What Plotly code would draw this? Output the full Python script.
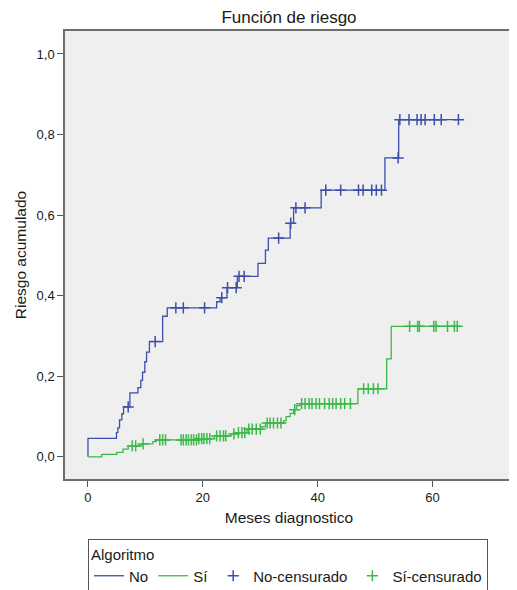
import numpy as np
import plotly.graph_objects as go

# ---- Data ----
# "No" group: cumulative hazard step function (time in months, value)
no_t = [0, 0, 4.96, 5.2, 5.5, 5.9, 6.2, 7.3, 8.7, 9.2, 9.5, 9.9, 10.2, 10.7, 13.0, 13.8,
        22.4, 23.0, 24.2, 26.0, 29.6, 30.9, 31.4, 35.2, 35.8, 40.6, 51.7, 54.1, 64.5]
no_v = [0, 0.046, 0.06, 0.072, 0.092, 0.107, 0.124, 0.159, 0.172, 0.19, 0.21, 0.236, 0.26, 0.286, 0.349, 0.37,
        0.385, 0.395, 0.42, 0.448, 0.48, 0.513, 0.543, 0.58, 0.618, 0.662, 0.742, 0.837, 0.837]
no_cens_t = [7.0, 11.7, 15.3, 16.6, 20.3, 23.3, 24.3, 25.8, 26.3, 27.2, 33.2, 35.3, 36.2, 37.8,
             41.4, 44.0, 47.1, 47.9, 49.4, 50.2, 51.1, 54.0, 54.3, 55.9, 57.3, 58.0, 58.7, 60.3, 61.5, 64.5]

# "Sí" group
si_t = [0, 2.4, 5.0, 6.1, 7.0, 9.3, 11.3, 11.9, 19.0, 22.0, 24.9, 26.0, 27.7, 30.3, 30.9,
        34.1, 34.5, 35.2, 35.8, 36.3, 37.0, 47.0, 52.0, 52.8, 64.4]
si_v = [0, 0.006, 0.011, 0.019, 0.027, 0.032, 0.038, 0.042, 0.045, 0.052, 0.057, 0.06, 0.069, 0.075, 0.084,
        0.09, 0.10, 0.108, 0.117, 0.127, 0.132, 0.169, 0.243, 0.324, 0.324]
si_cens_t = [7.7, 8.3, 9.6, 12.5, 13.0, 13.5, 16.2, 16.6, 17.1, 17.5, 18.0, 18.4, 18.9, 19.3, 19.8,
             20.2, 20.7, 21.2, 22.4, 23.0, 23.6, 24.0, 25.4, 26.2, 26.8, 27.3, 28.0, 28.6, 29.3,
             30.0, 31.2, 31.7, 32.3, 33.0, 33.6, 36.0, 37.2, 37.8, 38.5, 39.0, 39.7, 40.3, 41.2,
             42.0, 42.6, 43.2, 44.0, 44.7, 45.7, 48.0, 48.8, 49.7, 50.5, 56.0, 57.4, 57.7, 60.2,
             60.6, 62.6, 63.8, 64.3]

x_tick_vals = [0, 20, 40, 60]
y_tick_vals = [0.0, 0.2, 0.4, 0.6, 0.8, 1.0]
y_tick_text = ["0,0", "0,2", "0,4", "0,6", "0,8", "1,0"]

BLUE = "#3c4fab"
GREEN = "#3cb94a"
FONT = "Liberation Sans, Arial, sans-serif"

# the page body has an 8px default margin; size the figure to fit the 517x590 window
W, H = 509, 582
OFF = 8


def step_at(ts, vs, tc):
    idx = np.searchsorted(np.asarray(ts), np.asarray(tc), side="right") - 1
    return np.asarray(vs)[idx]


fig = go.Figure()
fig.add_trace(go.Scatter(x=no_t, y=no_v, mode="lines", line=dict(shape="hv", color=BLUE, width=1.3),
                         name="No"))
fig.add_trace(go.Scatter(x=si_t, y=si_v, mode="lines", line=dict(shape="hv", color=GREEN, width=1.3),
                         name="Sí"))
fig.add_trace(go.Scatter(x=no_cens_t, y=step_at(no_t, no_v, no_cens_t), mode="markers",
                         marker=dict(symbol="cross-thin", size=8, line=dict(color=BLUE, width=1.5)),
                         name="No-censurado"))
fig.add_trace(go.Scatter(x=si_cens_t, y=step_at(si_t, si_v, si_cens_t), mode="markers",
                         marker=dict(symbol="cross-thin", size=8, line=dict(color=GREEN, width=1.5)),
                         name="Sí-censurado"))

fig.update_layout(
    width=W, height=H,
    margin=dict(l=65 - OFF, r=W - (515 - OFF), t=31 - OFF, b=H - (479 - OFF)),
    paper_bgcolor="white",
    plot_bgcolor="#efefef",
    font=dict(family=FONT, color="#1a1a1a", size=13),
    hovermode=False,
    title=dict(text="Función de riesgo", x=0.5, xref="paper", y=1 - (17 - OFF) / H, yref="container",
               yanchor="middle", xanchor="center", font=dict(size=17, family=FONT, color="#1a1a1a")),
    xaxis=dict(range=[-4, 74], tickvals=x_tick_vals, ticks="outside", ticklen=6, tickcolor="#555",
               showgrid=False, zeroline=False, showline=True, mirror=True, linecolor="#6e6e6e",
               linewidth=1.5, tickfont=dict(size=13),
               title=dict(text="Meses diagnostico", font=dict(size=15.5), standoff=8)),
    yaxis=dict(range=[-0.055, 1.057], tickvals=y_tick_vals, ticktext=y_tick_text, ticks="outside",
               ticklen=6, tickcolor="#555", showgrid=False, zeroline=False, showline=True, mirror=True,
               linecolor="#6e6e6e", linewidth=1.5, tickfont=dict(size=13),
               title=dict(text="Riesgo acumulado", font=dict(size=15.5), standoff=6)),
    showlegend=True,
    legend=dict(orientation="h", xref="container", yref="container",
                x=(88 - OFF) / W, xanchor="left", y=1 - (539 - OFF) / H, yanchor="top",
                bordercolor="#555", borderwidth=1, bgcolor="white",
                font=dict(size=15, family=FONT),
                title=dict(text="Algoritmo", side="top", font=dict(size=15, family=FONT)),
                itemwidth=30, entrywidthmode="pixels"),
)

fig.write_html("out.html")
